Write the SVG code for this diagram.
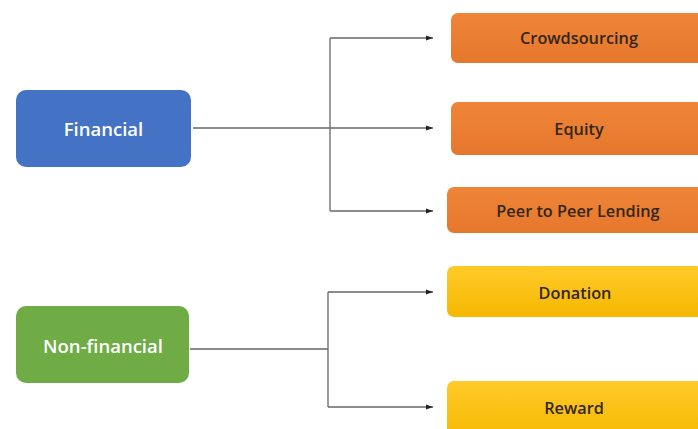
<svg xmlns="http://www.w3.org/2000/svg" width="698" height="429" viewBox="0 0 698 429">
<defs>
<linearGradient id="og" x1="0" y1="0" x2="0" y2="1"><stop offset="0" stop-color="#EF8538"/><stop offset="1" stop-color="#E5772C"/></linearGradient>
<linearGradient id="yg" x1="0" y1="0" x2="0" y2="1"><stop offset="0" stop-color="#FFCA2A"/><stop offset="1" stop-color="#F5B800"/></linearGradient>
<marker id="ah" markerWidth="8" markerHeight="8" refX="7" refY="4" orient="auto" markerUnits="userSpaceOnUse"><path d="M0,1.5 L7,4 L0,6.5 Z" fill="#222"/></marker>
<style>
.lbl{font-family:"Open Sans","Liberation Sans",sans-serif;font-weight:600;text-anchor:middle;dominant-baseline:central}
.w{fill:#fff;font-size:18.5px}
.d{fill:#33261a;font-size:16.3px}
.c{fill:none;stroke:#666;stroke-width:1.3}
</style>
</defs>
<rect width="698" height="429" fill="#fff"/>
<g id="connectors">
<path class="c" d="M193,128 H330"/>
<path class="c" d="M330,38 V211"/>
<path class="c" d="M330,38 H433" marker-end="url(#ah)"/>
<path class="c" d="M330,128 H433" marker-end="url(#ah)"/>
<path class="c" d="M330,211 H433" marker-end="url(#ah)"/>
<path class="c" d="M190,349 H328"/>
<path class="c" d="M328,292 V407"/>
<path class="c" d="M328,292 H433" marker-end="url(#ah)"/>
<path class="c" d="M328,407 H433" marker-end="url(#ah)"/>
</g>
<g id="financial"><rect x="16" y="90" width="175" height="77" rx="10" fill="#4472C4"/><text class="lbl w" x="103.5" y="128">Financial</text></g>
<g id="nonfinancial"><rect x="16" y="306" width="173" height="77" rx="10" fill="#6FAC46"/><text class="lbl w" x="103" y="345">Non-financial</text></g>
<g id="crowdsourcing"><rect x="451" y="13" width="260" height="50" rx="7" fill="url(#og)"/><text class="lbl d" x="579" y="38">Crowdsourcing</text></g>
<g id="equity"><rect x="451" y="102" width="260" height="53" rx="7" fill="url(#og)"/><text class="lbl d" x="579" y="129">Equity</text></g>
<g id="peer"><rect x="447" y="187" width="264" height="46" rx="7" fill="url(#og)"/><text class="lbl d" x="578" y="211">Peer to Peer Lending</text></g>
<g id="donation"><rect x="447" y="266" width="264" height="51" rx="7" fill="url(#yg)"/><text class="lbl d" x="575" y="293">Donation</text></g>
<g id="reward"><rect x="447" y="381" width="264" height="60" rx="7" fill="url(#yg)"/><text class="lbl d" x="574" y="408">Reward</text></g>
</svg>
